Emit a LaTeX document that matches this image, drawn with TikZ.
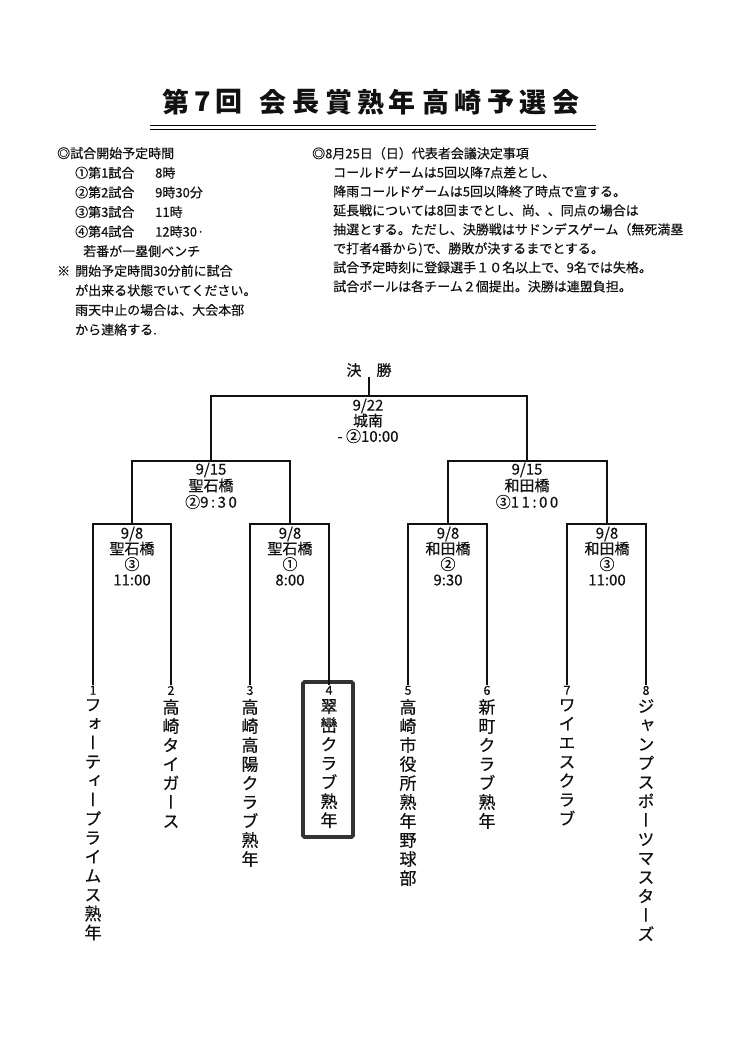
\documentclass[tikz,border=0pt]{standalone}
\usepackage{fontspec}
\setmainfont{Noto Sans CJK JP}
\newfontfamily\plainjp{Noto Sans CJK JP}
\newfontfamily\notejp[FakeBold=0.35]{Noto Sans CJK JP}
\newfontfamily\tatefont[RawFeature=+vert, FakeBold=0.4]{Noto Sans CJK JP}
\usetikzlibrary{positioning}
\definecolor{cupInk}{HTML}{111111}
\definecolor{cupBox}{HTML}{333333}
\newcommand\notesize{\notejp\fontsize{13}{19.6}\selectfont}
\newcommand\rulesize{\notejp\fontsize{13}{19}\selectfont}
\newcommand\slotsize{\notejp\fontsize{15}{15.6}\selectfont}
\newcommand\semisize{\notejp\fontsize{15}{16.5}\selectfont}
\newcommand\teamsize{\tatefont\fontsize{17}{19}\selectfont}
\newcommand\tk{\kern2.5pt}
\tikzset{
  every picture/.style={text=cupInk},
  cup title/.style={inner sep=0pt, font=\plainjp\bfseries\fontsize{27}{27}\selectfont},
  cup note/.style={anchor=north west, align=left, inner sep=0pt},
  cup slot/.style={anchor=north, align=center, inner sep=0pt, font=\slotsize},
  cup seed/.style={anchor=north, inner sep=0.6pt, font=\notejp\fontsize{12.5}{12.5}\selectfont},
  cup team/.style={anchor=north, align=center, inner sep=0pt, font=\teamsize},
  cup line/.style={draw=cupInk, line width=1.1pt},
  cup pick/.style={draw=cupBox, line width=3.8pt, rounded corners=1.5pt}
}

\begin{document}
\begin{tikzpicture}[x=1pt,y=-1pt]
  \fill[white] (0,0) rectangle (746,1056);

  % title and double rule
  \foreach \ch/\cx [count=\i] in {第/176,7/203,回/229,会/273,長/306,賞/339,熟/371,年/402,高/436,崎/468,予/501,選/533,会/566}
    \node[cup title] (title\i) at (\cx,102) {\ch};
  \draw[line width=0.8pt] (150,125) -- (596,125);
  \draw[line width=1.8pt] (150,129.5) -- (596,129.5);

  % notes
  \node[cup note, font=\notesize] (times) at (57,147) {%
    ◎試合開始予定時間\\
    \hspace*{18pt}\makebox[80pt][l]{①第1試合}8時\\
    \hspace*{18pt}\makebox[80pt][l]{②第2試合}9時30分\\
    \hspace*{18pt}\makebox[80pt][l]{③第3試合}11時\\
    \hspace*{18pt}\makebox[80pt][l]{④第4試合}12時30·\\
    \hspace*{26pt}若番が一塁側ベンチ\\
    \makebox[18pt][l]{※}開始予定時間30分前に試合\\
    \hspace*{18pt}が出来る状態でいてください。\\
    \hspace*{18pt}雨天中止の場合は、大会本部\\
    \hspace*{18pt}から連絡する.};
  \node[cup note, font=\rulesize] (rules) at (312,147) {%
    ◎8月25日（日）代表者会議決定事項\\
    \hspace*{21pt}コールドゲームは5回以降7点差とし、\\
    \hspace*{21pt}降雨コールドゲームは5回以降終了時点で宣する。\\
    \hspace*{21pt}延長戦については8回までとし、尚、、同点の場合は\\
    \hspace*{21pt}抽選とする。ただし、決勝戦はサドンデスゲーム（無死満塁\\
    \hspace*{21pt}で打者4番から)で、勝敗が決するまでとする。\\
    \hspace*{21pt}試合予定時刻に登録選手１０名以上で、9名では失格。\\
    \hspace*{21pt}試合ボールは各チーム２個提出。決勝は連盟負担。};

  % bracket joints
  \node[inner sep=0pt, font=\slotsize] (champ) at (369,370) {決　勝};
  \coordinate (F) at (369,396);
  \coordinate (SL) at (211,461);
  \coordinate (SR) at (527,461);
  \coordinate (Q1) at (132,524);
  \coordinate (Q2) at (290,524);
  \coordinate (Q3) at (448,524);
  \coordinate (Q4) at (607,524);

  % seeds and teams
  \foreach \n/\sx in {1/93,2/171,3/250,4/329,5/408,6/487,7/567,8/646}
    \node[cup seed] (s\n) at (\sx,685) {\n};
  \node[cup team] (team1) at (93,699) {フ\\ォ\\ー\\テ\\ィ\\ー\\プ\\ラ\\イ\\ム\\ス\\熟\\年};
  \node[cup team] (team2) at (171,699) {高\\崎\\タ\\イ\\ガ\\ー\\ス};
  \node[cup team] (team3) at (250,699) {高\\崎\\高\\陽\\ク\\ラ\\ブ\\熟\\年};
  \node[cup team] (team4) at (329,699) {翠\\巒\\ク\\ラ\\ブ\\熟\\年};
  \node[cup team] (team5) at (408,699) {高\\崎\\市\\役\\所\\熟\\年\\野\\球\\部};
  \node[cup team] (team6) at (487,699) {新\\町\\ク\\ラ\\ブ\\熟\\年};
  \node[cup team] (team7) at (567,699) {ワ\\イ\\エ\\ス\\ク\\ラ\\ブ};
  \node[cup team] (team8) at (646,699) {ジ\\ャ\\ン\\プ\\ス\\ポ\\ー\\ツ\\マ\\ス\\タ\\ー\\ズ};
  \draw[cup pick] (303,682) rectangle (353,837);

  % bracket lines
  \draw[cup line] (champ) -- (F);
  \draw[cup line] (SL) |- (F) -| (SR);
  \draw[cup line] (Q1) |- (SL) -| (Q2);
  \draw[cup line] (Q3) |- (SR) -| (Q4);
  \draw[cup line] (s1) |- (Q1) -| (s2);
  \draw[cup line] (s3) |- (Q2) -| (s4);
  \draw[cup line] (s5) |- (Q3) -| (s6);
  \draw[cup line] (s7) |- (Q4) -| (s8);

  % match slots
  \node[cup slot] (slotF) at (368,398.5) {9/22\\城南\\- ②10:00};
  \node[cup slot, font=\semisize] (slotSL) at (211,462.5) {9/15\\聖石橋\\②9\tk:\tk3\tk0};
  \node[cup slot, font=\semisize] (slotSR) at (527,462.5) {9/15\\和田橋\\③1\tk1\tk:\tk0\tk0};
  \node[cup slot] (slotQ1) at (132,526.5) {9/8\\聖石橋\\③\\11:00};
  \node[cup slot] (slotQ2) at (290,526.5) {9/8\\聖石橋\\①\\8:00};
  \node[cup slot] (slotQ3) at (448,526.5) {9/8\\和田橋\\②\\9:30};
  \node[cup slot] (slotQ4) at (607,526.5) {9/8\\和田橋\\③\\11:00};
\end{tikzpicture}
\end{document}
